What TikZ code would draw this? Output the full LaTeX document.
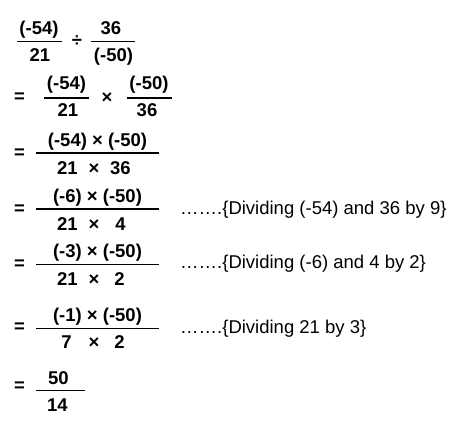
\documentclass[tikz,border=0pt]{standalone}
\usepackage{fontspec}
\setmainfont{Liberation Sans}
\begin{document}
\begin{tikzpicture}[x=1pt,y=-1pt,
  b/.style={font=\bfseries\fontsize{18.5}{18.5}\selectfont, inner sep=0pt, anchor=base},
  op/.style={font=\bfseries\fontsize{18.5}{18.5}\selectfont, inner sep=0pt, anchor=center},
  notetext/.style={font=\fontsize{18.5}{18.5}\selectfont, inner sep=0pt, anchor=base west},
  bar/.style={line width=1.8pt}]
\useasboundingbox[fill=white] (0,0) rectangle (462,433);
% line 1
\node[b] (n1a) at (39,34.3) {(-54)};
\node[b] (d1a) at (40,61.5) {21};
\draw[bar] (17,41.5) -- (62,41.5);
\node[op] (div1) at (77,41.5) {÷};
\node[b] (n1b) at (111,34.3) {36};
\node[b] (d1b) at (113.5,61.5) {(-50)};
\draw[bar] (91,41.5) -- (135,41.5);
% line 2
\node[op] (eq2) at (19.5,97.5) {=};
\node[b] (n2a) at (66.5,89) {(-54)};
\node[b] (d2a) at (68,116.7) {21};
\draw[bar] (44,97.7) -- (89,97.7);
\node[op] (x2) at (107,98) {×};
\node[b] (n2b) at (149,89) {(-50)};
\node[b] (d2b) at (147,116.7) {36};
\draw[bar] (127,97.7) -- (172,97.7);
% line 3
\node[op] (eq3) at (19.5,153.5) {=};
\node[b] (n3) at (97.5,146.7) {(-54) × (-50)};
\draw[bar] (36,153.3) -- (159,153.3);
\node[b] (d3a) at (67.5,174) {21};
\node[b] (d3x) at (94,174) {×};
\node[b] (d3b) at (120.5,174) {36};
% line 4
\node[op] (eq4) at (19.5,209.5) {=};
\node[b] (n4) at (97.5,202.5) {(-6) × (-50)};
\draw[bar] (36,209) -- (159,209);
\node[b] (d4a) at (67.5,230) {21};
\node[b] (d4x) at (94,230) {×};
\node[b] (d4b) at (120.5,230) {4};
\node[notetext] (c4) at (180,214.3) {…….\{Dividing (-54) and 36 by 9\}};
% line 5
\node[op] (eq5) at (19.5,264.5) {=};
\node[b] (n5) at (97.5,257.3) {(-3) × (-50)};
\draw[bar] (36,264.5) -- (159,264.5);
\node[b] (d5a) at (67.5,285) {21};
\node[b] (d5x) at (94,285) {×};
\node[b] (d5b) at (119.5,285) {2};
\node[notetext] (c5) at (180,268.5) {…….\{Dividing (-6) and 4 by 2\}};
% line 6
\node[op] (eq6) at (19.5,327.5) {=};
\node[b] (n6) at (97.5,321) {(-1) × (-50)};
\draw[bar] (36,328.5) -- (159,328.5);
\node[b] (d6a) at (66.5,348.5) {7};
\node[b] (d6x) at (94,348.5) {×};
\node[b] (d6b) at (119.5,348.5) {2};
\node[notetext] (c6) at (180,333) {…….\{Dividing 21 by 3\}};
% line 7
\node[op] (eq7) at (19.5,387) {=};
\node[b] (n7) at (58.5,384) {50};
\draw[bar] (36,390.5) -- (85,390.5);
\node[b] (d7) at (57.5,411.5) {14};
\end{tikzpicture}
\end{document}
